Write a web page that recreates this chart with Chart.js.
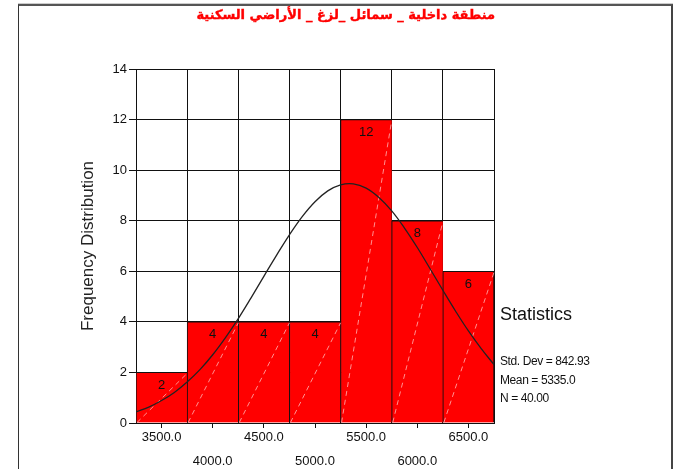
<!DOCTYPE html>
<html>
<head>
<meta charset="utf-8">
<script src="https://cdn.jsdelivr.net/npm/chart.js@4/dist/chart.umd.min.js"></script>
<style>
  html, body { margin: 0; padding: 0; background: #fff; }
  #wrap { position: relative; width: 675px; height: 469px; overflow: hidden; }
  #c { position: absolute; left: 0; top: 0; }
  #frame { position: absolute; left: 18px; top: 4px; width: 652px; height: 480px;
           border-left: 1px solid #333; border-right: 2px solid #444; border-top: 2px solid #555;
           box-shadow: 0 -1px 0 #ccc; }
  .txt { position: absolute; font-family: "Liberation Sans", Arial, sans-serif; color: #111; white-space: nowrap; }
  #title { position: absolute; left: 200px; width: 295px; top: 7px; text-align: center;
           font-family: "DejaVu Sans", sans-serif; font-weight: bold; font-size: 13px; color: #ff0000;
           -webkit-text-stroke: 0.4px #ff0000; direction: rtl; white-space: nowrap; }
</style>
</head>
<body>
<div id="wrap">
  <div id="frame"></div>
  <canvas id="c" width="675" height="469"></canvas>
  <div id="title">منطقة داخلية _ سمائل _لزغ _ الأراضي السكنية</div>
  <div class="txt" id="s0" style="left:500px; top:304px; font-size:18px;">Statistics</div>
  <div class="txt" id="s1" style="left:500px; top:354px; font-size:12px; letter-spacing:-0.4px;">Std. Dev = 842.93</div>
  <div class="txt" id="s2" style="left:500px; top:373px; font-size:12px; letter-spacing:-0.4px;">Mean = 5335.0</div>
  <div class="txt" id="s3" style="left:500px; top:391px; font-size:12px; letter-spacing:-0.4px;">N = 40.00</div>
</div>
<script>
// ---- data ----
const binCenters = [3500, 4000, 4500, 5000, 5500, 6000, 6500];
const binEdges = [3250, 3750, 4250, 4750, 5250, 5750, 6250, 6750];
const frequencies = [2, 4, 4, 4, 12, 8, 6];
const xTickLabels = ['3500.0', '4000.0', '4500.0', '5000.0', '5500.0', '6000.0', '6500.0'];
const curveX = [3250, 3375, 3500, 3625, 3750, 3875, 4000, 4125, 4250, 4375, 4500, 4625, 4750, 4875,
                5000, 5125, 5250, 5375, 5500, 5625, 5750, 5875, 6000, 6125, 6250, 6375, 6500, 6625, 6750];
const curveY = [0.44, 0.63, 0.89, 1.21, 1.62, 2.11, 2.70, 3.38, 4.13, 4.95, 5.80, 6.64, 7.44, 8.16,
                8.75, 9.18, 9.42, 9.46, 9.29, 8.92, 8.39, 7.71, 6.94, 6.10, 5.25, 4.42, 3.64, 2.94, 2.31];
const yTicks = [0, 2, 4, 6, 8, 10, 12, 14];

const FONT = '"Liberation Sans", Arial, sans-serif';
const lastIdx = frequencies.length - 1;

const barDecor = {
  id: 'barDecor',
  afterDatasetDraw(chart, args) {
    if (args.index !== 0) return;
    const ctx = chart.ctx;
    const meta = args.meta;
    ctx.save();
    ctx.strokeStyle = 'rgba(255,170,170,0.85)';
    ctx.lineWidth = 1;
    ctx.setLineDash([5, 4]);
    meta.data.forEach((bar) => {
      const p = bar.getProps(['x', 'y', 'base', 'width'], true);
      ctx.beginPath();
      ctx.moveTo(p.x - p.width / 2 + 1, p.base);
      ctx.lineTo(p.x + p.width / 2, p.y + 1);
      ctx.stroke();
    });
    ctx.setLineDash([]);
    ctx.fillStyle = '#111';
    ctx.font = '13px ' + FONT;
    ctx.textAlign = 'center';
    ctx.textBaseline = 'middle';
    meta.data.forEach((bar, i) => {
      const p = bar.getProps(['x', 'y'], true);
      ctx.fillText(String(frequencies[i]), p.x, p.y + 13);
    });
    ctx.restore();
  }
};

new Chart(document.getElementById('c'), {
  type: 'bar',
  data: {
    datasets: [
      {
        type: 'bar',
        xAxisID: 'x',
        data: binCenters.map((x, i) => ({ x: x, y: frequencies[i] })),
        backgroundColor: '#ff0000',
        borderColor: '#111',
        borderWidth: (ctx) => ({ left: 1, top: 1, right: ctx.dataIndex === lastIdx ? 1 : 0, bottom: 0 }),
        borderSkipped: false,
        barPercentage: 1,
        categoryPercentage: 1,
        order: 1
      },
      {
        type: 'line',
        xAxisID: 'x',
        data: curveX.map((x, i) => ({ x: x, y: curveY[i] })),
        borderColor: '#222',
        borderWidth: 1.3,
        pointRadius: 0,
        tension: 0.4,
        fill: false,
        order: 0
      }
    ]
  },
  options: {
    responsive: false,
    devicePixelRatio: 1,
    animation: false,
    events: [],
    layout: { padding: { left: 0, top: 69, right: 181, bottom: 0 } },
    plugins: { legend: { display: false }, tooltip: { enabled: false }, title: { display: false } },
    scales: {
      xg: {
        type: 'linear',
        position: 'bottom',
        min: 3250,
        max: 6750,
        offset: false,
        weight: 1,
        afterBuildTicks: (s) => { s.ticks = binEdges.map(v => ({ value: v })); },
        afterFit: (s) => { s.height = 0; },
        border: { display: false },
        grid: { color: '#111', drawTicks: false, offset: false },
        ticks: { display: false }
      },
      x: {
        type: 'linear',
        position: 'bottom',
        min: 3250,
        max: 6750,
        offset: false,
        weight: 0,
        afterBuildTicks: (s) => { s.ticks = binCenters.map(v => ({ value: v })); },
        afterFit: (s) => { s.height = 46; },
        border: { display: true, color: '#111', width: 1 },
        grid: {
          offset: false,
          drawOnChartArea: false,
          drawTicks: true,
          tickLength: 5,
          color: '#111',
          tickColor: '#111'
        },
        ticks: {
          autoSkip: false,
          maxRotation: 0,
          minRotation: 0,
          padding: -3,
          color: '#111',
          font: { family: FONT, size: 13, lineHeight: '24px' },
          callback: (v, i) => (i % 2 === 0 ? [xTickLabels[i]] : ['', xTickLabels[i]])
        }
      },
      y: {
        type: 'linear',
        min: 0,
        max: 14,
        afterFit: (s) => { s.width = 136; },
        afterBuildTicks: (s) => { s.ticks = yTicks.map(v => ({ value: v })); },
        border: { display: true, color: '#111', width: 1 },
        grid: { color: '#111', tickColor: '#111', tickLength: 7, drawTicks: true },
        ticks: { padding: 2, color: '#111', font: { family: FONT, size: 13 } },
        title: {
          display: true,
          text: 'Frequency Distribution',
          color: '#222',
          font: { family: FONT, size: 17 },
          padding: { top: 78, bottom: 0 }
        }
      }
    }
  },
  plugins: [barDecor]
});
</script>
</body>
</html>
